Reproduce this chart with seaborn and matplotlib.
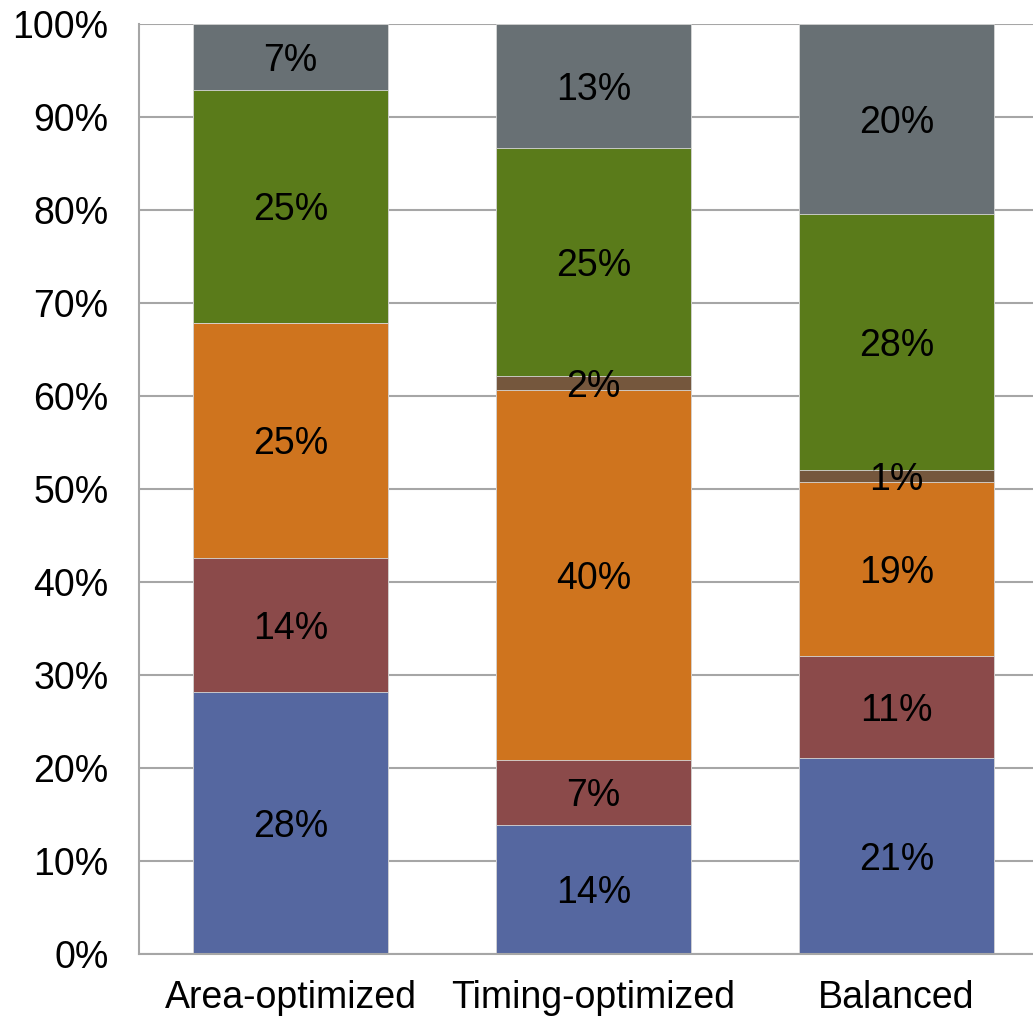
import numpy as np
import pandas as pd
import seaborn as sns
import matplotlib
matplotlib.use("Agg")
import matplotlib.pyplot as plt

categories = ["Area-optimized", "Timing-optimized", "Balanced"]
segments = ["s1", "s2", "s3", "s4", "s5", "s6"]
# share of each segment per configuration, in percent (bottom to top)
s1 = [28.2, 13.9, 21.1]
s2 = [14.4, 7.0, 10.9]
s3 = [25.3, 39.7, 18.8]
s4 = [0.0, 1.5, 1.2]
s5 = [25.0, 24.6, 27.6]
s6 = [7.1, 13.3, 20.4]
colors = ["#5567A0", "#8B4A4A", "#CF741E", "#75573D", "#5A7B1A", "#687074"]

sns.set_theme(style="white")
plt.rcParams["font.family"] = ["Liberation Sans", "DejaVu Sans"]

values = np.array([s1, s2, s3, s4, s5, s6])
cum = np.cumsum(values, axis=0)
df = pd.DataFrame(cum.T, columns=segments)
df["category"] = categories

fig = plt.figure(figsize=(10.33, 10.16), dpi=100)
ax = fig.add_axes([0.1346, 0.061, 0.88, 0.9154])

# stacked bars: draw cumulative totals from the top layer down
for i in range(len(segments) - 1, -1, -1):
    sns.barplot(data=df, x="category", y=segments[i], color=colors[i],
                saturation=1, width=0.644, ax=ax,
                edgecolor="#d8d8d8", linewidth=0.6, zorder=2)

for j in range(len(categories)):
    for i in range(len(segments)):
        v = values[i, j]
        if v <= 0:
            continue
        yc = cum[i, j] - v / 2
        ax.text(j, yc, f"{v:.0f}%", ha="center", va="center_baseline",
                fontsize=27, color="black", zorder=5)

ax.set_xlim(-0.5, 2.5)
ax.set_ylim(0, 100)
ax.set_yticks(np.arange(0, 101, 10))
ax.set_yticklabels([f"{t}%" for t in range(0, 101, 10)])
ax.yaxis.grid(True, color="#A6A6A6", linewidth=1.5, zorder=0)
ax.set_axisbelow(True)
ax.tick_params(axis="y", labelsize=27, pad=22, length=0, colors="black")
ax.tick_params(axis="x", labelsize=27, pad=19, length=0, colors="black")
ax.set_xlabel("")
ax.set_ylabel("")
for side in ["top", "right"]:
    ax.spines[side].set_visible(False)
for side in ["left", "bottom"]:
    ax.spines[side].set_color("#A6A6A6")
    ax.spines[side].set_linewidth(1.5)

fig.savefig("out.png", dpi=100)
